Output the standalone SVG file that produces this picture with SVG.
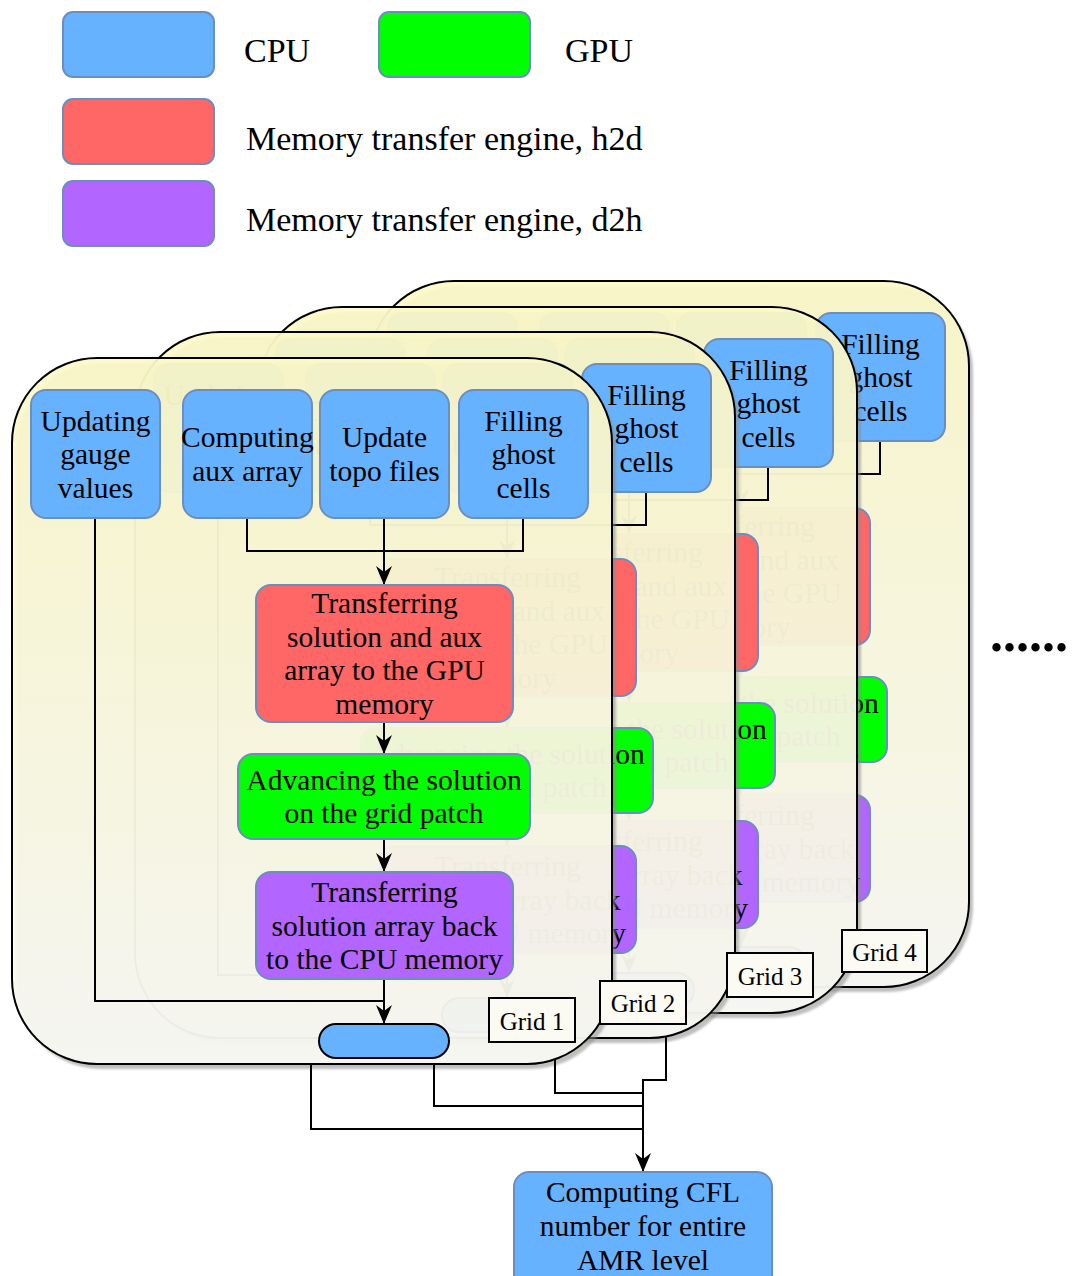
<svg xmlns="http://www.w3.org/2000/svg" xmlns:xlink="http://www.w3.org/1999/xlink" width="1073" height="1276" viewBox="0 0 1073 1276">
<style>
.t{font-family:"Liberation Serif","Times New Roman",serif;font-size:29.5px;text-anchor:middle;fill:#000}
.lg{font-family:"Liberation Serif","Times New Roman",serif;font-size:34px;fill:#000}
.lbl{font-family:"Liberation Serif","Times New Roman",serif;font-size:25px;text-anchor:middle;fill:#000}
.cpu{fill:#66B2FF;stroke:#6C8EBF;stroke-width:2}
.gpu{fill:#00FF00;stroke:#6C8EBF;stroke-width:2}
.h2d{fill:#FF6666;stroke:#6C8EBF;stroke-width:2}
.d2h{fill:#B266FF;stroke:#6C8EBF;stroke-width:2}
.edge{fill:none;stroke:#000;stroke-width:2}
.arr{marker-end:url(#ah)}
.panel{fill:url(#pg);fill-opacity:0.92;stroke:#000;stroke-width:2}
.shadow{fill:#8a8a8a;fill-opacity:0.55;stroke:none;filter:url(#blur)}
.glabel{fill:#FBFBF4;stroke:#000;stroke-width:2}
</style>
<defs>
<linearGradient id="pg" x1="0" y1="0" x2="0" y2="1">
<stop offset="0" stop-color="#FCF9C8"/>
<stop offset="1" stop-color="#FAFAF6"/>
</linearGradient>
<filter id="blur" x="-5%" y="-5%" width="110%" height="110%"><feGaussianBlur stdDeviation="1.2"/></filter>
<marker id="ah" viewBox="0 0 19 16" refX="19" refY="8" markerWidth="19" markerHeight="16" markerUnits="userSpaceOnUse" orient="auto">
<path d="M0,0 L19,8 L0,16 L6,8 Z" fill="#000"/>
</marker>
<rect id="panelShape" x="12" y="358" width="600" height="706" rx="85" ry="85"/>
</defs>

<!-- Legend -->
<g id="legend-cpu"><rect class="cpu" x="63" y="12" width="151" height="65" rx="10"/><text class="lg" x="244" y="62">CPU</text></g>
<g id="legend-gpu"><rect class="gpu" x="379" y="12" width="151" height="65" rx="10"/><text class="lg" x="565" y="62">GPU</text></g>
<g id="legend-h2d"><rect class="h2d" x="63" y="99" width="151" height="65" rx="10"/><text class="lg" x="246" y="150">Memory transfer engine, h2d</text></g>
<g id="legend-d2h"><rect class="d2h" x="63" y="181" width="151" height="65" rx="10"/><text class="lg" x="246" y="231">Memory transfer engine, d2h</text></g>

<!-- Grid 4 (back) -->
<g id="grid4" transform="translate(357,-77)">
<use href="#panelShape" class="shadow" transform="translate(4,5)"/>
<use href="#panelShape" class="panel"/>
<use href="#grid1-content"/>
</g>
<!-- Grid 3 -->
<g id="grid3" transform="translate(245,-51)">
<use href="#panelShape" class="shadow" transform="translate(4,5)"/>
<use href="#panelShape" class="panel"/>
<use href="#grid1-content"/>
</g>
<!-- Grid 2 -->
<g id="grid2" transform="translate(123,-26)">
<use href="#panelShape" class="shadow" transform="translate(4,5)"/>
<use href="#panelShape" class="panel"/>
<use href="#grid1-content"/>
</g>
<!-- Grid 1 (front) -->
<g id="grid1">
<use href="#panelShape" class="shadow" transform="translate(4,5)"/>
<use href="#panelShape" class="panel"/>
<g id="grid1-content">
<g id="grid1-connectors">
<path class="edge" d="M247,518 V551 H523 V518"/>
<path class="edge arr" d="M384,518 V585"/>
<path class="edge arr" d="M384,722 V754"/>
<path class="edge arr" d="M384,839 V872"/>
<path class="edge arr" d="M384,979 V1024"/>
<path class="edge" d="M95,518 V1001 H384"/>
</g>
<g id="node-gauge"><rect class="cpu" x="31" y="390" width="129" height="128" rx="15"/>
<text class="t" x="95.5" y="430.5">Updating</text><text class="t" x="95.5" y="464">gauge</text><text class="t" x="95.5" y="497.5">values</text></g>
<g id="node-aux"><rect class="cpu" x="183" y="390" width="129" height="128" rx="15"/>
<text class="t" x="247.5" y="447.25">Computing</text><text class="t" x="247.5" y="480.75">aux array</text></g>
<g id="node-topo"><rect class="cpu" x="320" y="390" width="129" height="128" rx="15"/>
<text class="t" x="384.5" y="447.25">Update</text><text class="t" x="384.5" y="480.75">topo files</text></g>
<g id="node-ghost"><rect class="cpu" x="459" y="390" width="129" height="128" rx="15"/>
<text class="t" x="523.5" y="430.5">Filling</text><text class="t" x="523.5" y="464">ghost</text><text class="t" x="523.5" y="497.5">cells</text></g>
<g id="node-h2d"><rect class="h2d" x="256" y="585" width="257" height="137" rx="15"/>
<text class="t" x="384.5" y="613.25">Transferring</text><text class="t" x="384.5" y="646.75">solution and aux</text><text class="t" x="384.5" y="680.25">array to the GPU</text><text class="t" x="384.5" y="713.75">memory</text></g>
<g id="node-gpu"><rect class="gpu" x="238" y="754" width="292" height="85" rx="15"/>
<text class="t" x="384" y="789.75">Advancing the solution</text><text class="t" x="384" y="823.25">on the grid patch</text></g>
<g id="node-d2h"><rect class="d2h" x="256" y="872" width="257" height="107" rx="15"/>
<text class="t" x="384.5" y="902">Transferring</text><text class="t" x="384.5" y="935.5">solution array back</text><text class="t" x="384.5" y="969">to the CPU memory</text></g>
<g id="node-end"><rect x="319" y="1024" width="130" height="34" rx="17" ry="17" fill="#66B2FF" stroke="#000" stroke-width="2"/></g>
</g>
</g>

<!-- Grid labels -->
<g id="label-grid1"><rect class="glabel" x="489" y="998" width="86" height="44"/><text class="lbl" x="532" y="1030">Grid 1</text></g>
<g id="label-grid2"><rect class="glabel" x="600" y="981" width="86" height="43"/><text class="lbl" x="643" y="1012">Grid 2</text></g>
<g id="label-grid3"><rect class="glabel" x="727" y="953" width="86" height="44"/><text class="lbl" x="770" y="985">Grid 3</text></g>
<g id="label-grid4"><rect class="glabel" x="842" y="930" width="85" height="42"/><text class="lbl" x="884.5" y="961">Grid 4</text></g>

<!-- Connectors to CFL -->
<g id="connectors">
<path class="edge" d="M311,1065 V1129 H643"/>
<path class="edge" d="M434,1065 V1106 H643"/>
<path class="edge" d="M555,1059 V1093 H643"/>
<path class="edge arr" d="M666,1037 V1080 H643 V1172"/>
</g>

<g id="node-cfl"><rect class="cpu" x="514" y="1172" width="258" height="120" rx="15"/>
<text class="t" x="643" y="1202">Computing CFL</text><text class="t" x="643" y="1236">number for entire</text><text class="t" x="643" y="1270">AMR level</text></g>

<text id="ellipsis" x="990" y="651" style="font-family:'Liberation Serif','Times New Roman',serif;font-size:52px;font-weight:bold;fill:#000">......</text>
</svg>
